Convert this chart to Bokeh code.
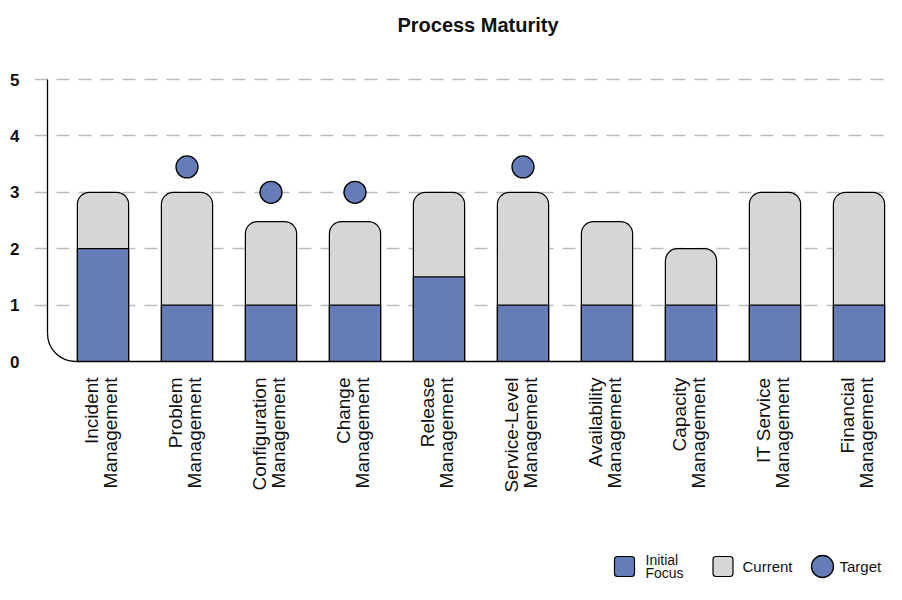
import numpy as np
from bokeh.plotting import figure
from bokeh.models import FixedTicker, Range1d, ColumnDataSource
from bokeh.core.properties import value
from bokeh.embed import file_html
from bokeh.resources import INLINE

# ---------------- data ----------------
categories = ["Incident\nManagement", "Problem\nManagement", "Configuration\nManagement",
              "Change\nManagement", "Release\nManagement", "Service-Level\nManagement",
              "Availability\nManagement", "Capacity\nManagement", "IT Service\nManagement",
              "Financial\nManagement"]
initial_focus = [2, 1, 1, 1, 1.5, 1, 1, 1, 1, 1]
current = [3, 3, 2.48, 2.48, 3, 3, 2.48, 2, 3, 3]
target_index = [1, 2, 3, 5]
target_values = [3.45, 3, 3, 3.45]
y_ticks = [0, 1, 2, 3, 4, 5]
grid_ticks = [1, 2, 3, 4, 5]
legend_labels = ["Initial\nFocus", "Current", "Target"]
title_text = "Process Maturity"

# ---------------- styles / layout ----------------
BLUE = "#667cb9"
GRAY = "#d6d6d6"
GRID = "#bdbdbd"
SANS = "Liberation Sans, Arial, sans-serif"

W, H = 886, 584
FL, FR = 34, 886          # frame left/right (px)
X0_PX, DX = 102.5, 84.0   # first category centre, px per category
Y0_PX, DY = 361, 56.4     # y=0 position, px per unit
BAR_W = 0.61
R = 28                    # axis corner radius (px)

x_start = (FL - X0_PX) / DX
x_end = (FR - X0_PX) / DX
y_start = -(H - Y0_PX) / DY
y_end = Y0_PX / DY


def fx(px):
    return x_start + (px - FL) / DX


def fy(py):
    return (Y0_PX - py) / DY


p = figure(width=W, height=H, x_range=Range1d(x_start, x_end), y_range=Range1d(y_start, y_end),
           output_backend="svg", toolbar_location=None, x_axis_type=None,
           min_border_left=FL, min_border_right=W - FR, min_border_top=0, min_border_bottom=0,
           outline_line_color=None, background_fill_color="white")

# y axis
p.yaxis.ticker = FixedTicker(ticks=y_ticks)
p.yaxis.axis_line_color = None
p.yaxis.major_tick_line_color = None
p.yaxis.minor_tick_line_color = None
p.yaxis.major_label_standoff = 9
p.yaxis.major_label_text_font = SANS
p.yaxis.major_label_text_font_style = "bold"
p.yaxis.major_label_text_font_size = "17px"
p.yaxis.major_label_text_color = "#111111"

p.ygrid.ticker = FixedTicker(ticks=grid_ticks)
p.ygrid.grid_line_color = GRID
p.ygrid.grid_line_dash = "13 9"
p.ygrid.grid_line_width = 1.5

n = len(categories)
xs = list(range(n))
src = ColumnDataSource(dict(x=xs, initial=initial_focus, current=current))

# bars
p.vbar(x="x", top="current", bottom=0, width=BAR_W, source=src, fill_color=GRAY,
       line_color="black", line_width=1.2, border_radius=(12, 12, 0, 0))
p.vbar(x="x", top="initial", bottom=0, width=BAR_W, source=src, fill_color=BLUE,
       line_color="black", line_width=1.2)

# targets
p.scatter(x=target_index, y=target_values, size=22, marker="circle", fill_color=BLUE,
          line_color="black", line_width=1.3)

# axis frame with rounded corner
x_ax = fx(47)
p.line(x=[x_ax, x_ax], y=[y_ticks[-1], R / DY], line_color="black", line_width=1.3)
p.arc(x=[x_ax + R / DX], y=[R / DY], radius=R, radius_units="screen",
      start_angle=np.pi, end_angle=1.5 * np.pi, line_color="black", line_width=1.3)
p.line(x=[x_ax + R / DX, n - 1 + BAR_W / 2], y=[0, 0], line_color="black", line_width=1.3)

# category labels
p.text(x=xs, y=[fy(377)] * n, text=categories, angle=np.pi / 2, text_align="right",
       text_baseline="middle", text_font=value(SANS), text_font_size="19px",
       text_line_height=0.87, text_color="#111111", x_offset=-2)

# title
p.text(x=[fx(477.5)], y=[fy(24)], text=[title_text], text_align="center",
       text_baseline="alphabetic", text_font=value(SANS), text_font_style="bold",
       text_font_size="20px", text_color="#111111")

# legend (manual)
ly = fy(566)
p.rect(x=[fx(624), fx(722.5)], y=[ly, ly], width=20, height=20, width_units="screen",
       height_units="screen", fill_color=[BLUE, GRAY], line_color="black", line_width=1.2,
       border_radius=3)
p.scatter(x=[fx(822)], y=[ly], size=22, marker="circle", fill_color=BLUE,
          line_color="black", line_width=1.3)
p.text(x=[fx(645), fx(742), fx(839)], y=[ly, ly, ly], text=legend_labels, text_align="left",
       text_baseline="middle", text_font=value(SANS), text_font_size=["14px", "15px", "15px"],
       text_line_height=0.85, text_color="#111111")

open("out.html", "w").write(file_html(p, INLINE))
